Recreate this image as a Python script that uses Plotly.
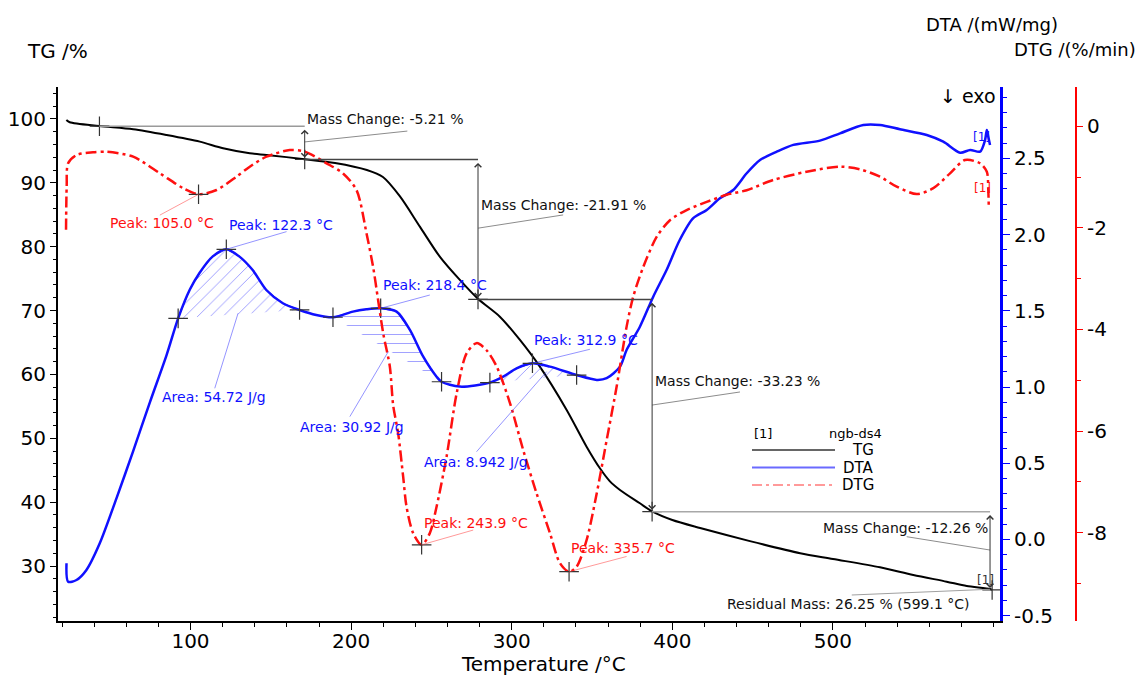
import numpy as np
import plotly.graph_objects as go

FONT = "DejaVu Sans"

# ---------------- data ----------------
tg_temp = [22.7, 24.8, 43.1, 64.3, 85.1, 105.8, 120.3, 136.9, 147.3, 171.1, 190.0, 209.8,
           219.8, 230.3, 242.8, 255.2, 267.7, 279.1, 292.6, 305.1, 317.5, 334.2, 346.6,
           354.9, 361.0, 367.4, 379.8, 387.4, 400.0, 417.3, 448.3, 479.6, 500.0, 529.3, 550.0,
           570.8, 583.3, 597.8, 599.1]
tg_mass = [99.84, 99.48, 98.90, 98.39, 97.49, 96.45, 95.41, 94.63, 94.36, 93.70, 93.10, 92.00,
           90.90, 87.90, 83.14, 78.44, 74.79, 71.80, 69.04, 65.39, 61.21, 54.43, 48.68,
           45.30, 43.30, 41.91, 39.82, 38.55, 37.20, 35.95, 33.90, 32.00, 31.10, 29.80, 28.60,
           27.55, 26.88, 26.40, 26.25]

dta_temp = [22.8, 23.8, 29.0, 35.2, 43.5, 53.9, 64.3, 74.7, 85.1, 92.3, 99.6, 105.6, 113.7,
            122.3, 130.5, 138.7, 147.2, 157.5, 167.9, 178.3, 188.7, 201.1, 209.5, 218.4,
            228.3, 236.6, 244.9, 253.2, 256.3, 267.7, 286.4, 294.7, 303.0, 312.9, 323.8,
            340.4, 352.9, 359.1, 367.4, 371.5, 379.8, 388.1, 396.4, 404.6, 413.0, 421.4,
            429.6, 437.9, 446.3, 454.6, 465.0, 475.3, 491.9, 504.4, 518.9, 529.3, 541.7,
            558.4, 568.7, 579.2, 585.4, 591.6, 594.7, 595.8, 596.7, 597.8]
dta_signal = [-0.156, -0.277, -0.266, -0.200, -0.025, 0.270, 0.580, 0.900, 1.210, 1.451, 1.640,
              1.749, 1.856, 1.904, 1.856, 1.768, 1.637, 1.550, 1.506, 1.473, 1.458, 1.495,
              1.510, 1.517, 1.495, 1.375, 1.199, 1.068, 1.035, 1.003, 1.029, 1.068, 1.123,
              1.156, 1.134, 1.079, 1.047, 1.058, 1.134, 1.243, 1.396, 1.593, 1.768, 1.965,
              2.108, 2.162, 2.239, 2.293, 2.403, 2.490, 2.545, 2.589, 2.617, 2.665, 2.720,
              2.720, 2.692, 2.654, 2.610, 2.538, 2.556, 2.545, 2.621, 2.687, 2.643, 2.589]

dtg_temp = [22.5, 22.9, 23.8, 29.0, 39.3, 47.7, 64.3, 80.9, 95.4, 105.0, 116.2, 128.6, 136.9,
            147.3, 161.8, 171.1, 184.7, 195.0, 203.4, 209.6, 213.7, 216.8, 220.0, 224.1,
            226.2, 229.3, 232.4, 234.5, 238.6, 243.9, 249.0, 253.2, 259.4, 265.7, 271.9,
            278.1, 284.3, 290.6, 298.9, 307.1, 315.5, 323.8, 330.0, 335.7, 340.4, 346.6,
            352.9, 359.1, 365.3, 371.5, 375.6, 381.9, 390.2, 398.5, 408.9, 421.4, 433.8,
            446.3, 462.8, 483.6, 504.4, 516.8, 529.3, 539.7, 552.1, 562.5, 572.9, 582.2,
            591.6, 595.8, 596.7, 597.0]
dtg_rate = [-2.04, -1.20, -0.73, -0.567, -0.514, -0.502, -0.60, -0.927, -1.22, -1.34, -1.256,
            -0.994, -0.797, -0.60, -0.47, -0.50, -0.73, -0.93, -1.26, -2.11, -2.77, -3.42,
            -4.08, -4.73, -5.50, -6.05, -6.90, -7.49, -8.01, -8.24, -8.01, -7.49, -6.51,
            -5.26, -4.47, -4.27, -4.41, -4.73, -5.45, -6.37, -7.23, -8.01, -8.60, -8.77,
            -8.67, -8.15, -7.23, -6.18, -5.13, -3.95, -3.36, -2.77, -2.18, -1.85, -1.65,
            -1.49, -1.35, -1.26, -1.059, -0.896, -0.797, -0.848, -0.994, -1.19, -1.335,
            -1.22, -0.927, -0.665, -0.73, -0.896, -1.256, -1.585]

# mass-change evaluation
step_temp = [43.3, 171.1, 279.0, 387.4, 599.1]
step_mass = [98.86, 93.65, 71.74, 38.51, 26.25]
mass_change = [-5.21, -21.91, -33.23, -12.26]

# DTA peaks / areas
dta_peak_temp = [122.3, 218.4, 312.9]
dta_peak_val = [1.904, 1.517, 1.156]
dta_base_start = [92.3, 188.7, 286.4]
dta_base_end = [167.9, 256.3, 340.4]
dta_area = ["54.72", "30.92", "8.942"]

# DTG peaks
dtg_peak_temp = [105.0, 243.9, 335.7]
dtg_peak_val = [-1.34, -8.24, -8.77]

# ticks
x_ticks = [100, 200, 300, 400, 500]
x_labels = ["100", "200", "300", "400", "500"]
tg_ticks = [30, 40, 50, 60, 70, 80, 90, 100]
tg_labels = ["30", "40", "50", "60", "70", "80", "90", "100"]
dta_ticks = [-0.5, 0.0, 0.5, 1.0, 1.5, 2.0, 2.5]
dta_labels = ["-0.5", "0.0", "0.5", "1.0", "1.5", "2.0", "2.5"]
dtg_ticks = [-8, -6, -4, -2, 0]
dtg_labels = ["-8", "-6", "-4", "-2", "0"]

# ---------------- styles ----------------
BLUE = "#1010ff"
RED = "#ff1010"
DARK = "#333333"

fig = go.Figure()

# hatched DTA peak areas
hatch_shapes = ["/", "-", "/"]
dT = np.array(dta_temp)
dV = np.array(dta_signal)
for a, b, sh in zip(dta_base_start, dta_base_end, hatch_shapes):
    m = (dT > a) & (dT < b)
    xs = [a] + list(dT[m]) + [b]
    ys = [float(np.interp(a, dT, dV))] + list(dV[m]) + [float(np.interp(b, dT, dV))]
    fig.add_trace(go.Scatter(
        x=xs, y=ys, yaxis="y2", mode="lines", fill="toself",
        line=dict(color="rgba(40,40,255,0.85)", width=1),
        fillcolor="rgba(0,0,0,0)",
        fillpattern=dict(shape=sh, size=9, solidity=0.1, fgcolor="rgba(80,80,255,0.6)",
                         bgcolor="rgba(255,255,255,0)", fillmode="replace"),
        hoverinfo="skip", showlegend=False))

# curves
fig.add_trace(go.Scatter(x=dtg_temp, y=dtg_rate, yaxis="y3", mode="lines", name="DTG",
                         line=dict(color=RED, width=2.5, dash="11px,4px,3px,4px",
                                   shape="spline", smoothing=0.8)))
fig.add_trace(go.Scatter(x=dta_temp, y=dta_signal, yaxis="y2", mode="lines", name="DTA",
                         line=dict(color=BLUE, width=2.5, shape="spline", smoothing=0.8)))
fig.add_trace(go.Scatter(x=tg_temp, y=tg_mass, yaxis="y", mode="lines", name="TG",
                         line=dict(color="black", width=2, shape="spline", smoothing=0.8)))

# cross markers
cross = dict(symbol="cross-thin", size=14, line=dict(width=1.2, color=DARK))
fig.add_trace(go.Scatter(x=step_temp, y=step_mass, yaxis="y", mode="markers", marker=cross,
                         hoverinfo="skip"))
dta_mark_T = dta_base_start + dta_peak_temp + dta_base_end
dta_mark_V = [float(np.interp(t, dT, dV)) for t in dta_base_start] + dta_peak_val + \
             [float(np.interp(t, dT, dV)) for t in dta_base_end]
fig.add_trace(go.Scatter(x=dta_mark_T, y=dta_mark_V, yaxis="y2", mode="markers", marker=cross,
                         hoverinfo="skip"))
fig.add_trace(go.Scatter(x=dtg_peak_temp, y=dtg_peak_val, yaxis="y3", mode="markers",
                         marker=cross, hoverinfo="skip"))

shapes = []
annotations = []


def seg(x0, y0, x1, y1, yref="y", color="#888888", width=1):
    shapes.append(dict(type="line", xref="x", yref=yref, x0=x0, y0=y0, x1=x1, y1=y1,
                       line=dict(color=color, width=width), layer="above"))


def txt(text, x, y, yref="y", color="black", xanchor="left", size=14):
    annotations.append(dict(text=text, x=x, y=y, xref="x", yref=yref, showarrow=False,
                            xanchor=xanchor, yanchor="middle",
                            font=dict(family=FONT, size=size, color=color)))


def ptxt(text, px, py, xanchor="center", size=14, color="black"):
    annotations.append(dict(text=text, x=(px - 58) / 1042, y=(621 - py) / 534,
                            xref="paper", yref="paper", showarrow=False,
                            xanchor=xanchor, yanchor="middle",
                            font=dict(family=FONT, size=size, color=color)))


# mass-change level lines and arrows
level_colors = ["#9a9a9a", "#444444", "#444444", "#a8a8a8"]
arrow_x = [step_temp[1], step_temp[2], step_temp[3], 597.8]
level_end = [step_temp[1], step_temp[2], step_temp[3], 597.8]
for i in range(4):
    seg(step_temp[i], step_mass[i], level_end[i], step_mass[i], color=level_colors[i], width=1.5)
    annotations.append(dict(x=arrow_x[i], y=step_mass[i + 1] + 0.3, ax=arrow_x[i],
                            ay=step_mass[i] - 0.3, xref="x", yref="y", axref="x", ayref="y",
                            text="", showarrow=True, arrowhead=4, startarrowhead=4,
                            arrowside="end+start", arrowsize=1.3, startarrowsize=1.3,
                            arrowwidth=1, arrowcolor=DARK))

mc_text_pos = [(171.5, 100.0, "left"), (279.5, 86.5, "left"), (387.9, 58.97, "left"),
               (597.5, 35.9, "right")]
mc_leaders = [(171.1, 96.4, 235.0, 98.1), (279.1, 82.9, 332.0, 84.97),
              (387.4, 55.2, 442.1, 57.25), (597.8, 32.5, 545.9, 34.59)]
for mc, (x, y, xa), (a0, b0, a1, b1) in zip(mass_change, mc_text_pos, mc_leaders):
    txt(f"Mass Change: {mc:.2f} %", x, y, xanchor=xa, color="#111111")
    seg(a0, b0, a1, b1, color="#8c8c8c")

txt(f"Residual Mass: {step_mass[-1]:.2f} % ({step_temp[-1]:.1f} °C)", 586.5, 24.05,
    xanchor="right", color="#111111")
seg(597.8, 26.36, 511.7, 25.46, color="#a0a0a0")

# DTA peak labels
dta_peak_pos = [(123.0, 2.064), (218.9, 1.67), (312.8, 1.309)]
dta_peak_lead = [(159.8, 2.02), (249.0, 1.604), (348.7, 1.248)]
for t, v, (x, y), (lx, ly) in zip(dta_peak_temp, dta_peak_val, dta_peak_pos, dta_peak_lead):
    txt(f"Peak: {t:.1f} °C", x, y, yref="y2", color=BLUE)
    seg(t, v, lx, ly, yref="y2", color="rgba(60,60,255,0.55)")

dta_area_pos = [(80.9, 0.937), (167.0, 0.740), (244.3, 0.51)]
dta_area_lead = [(129.6, 1.484, 115.1, 0.992), (223.1, 1.232, 199.2, 0.806),
                 (321.7, 1.101, 278.1, 0.576)]
for ar, (x, y), (a0, b0, a1, b1) in zip(dta_area, dta_area_pos, dta_area_lead):
    txt(f"Area: {ar} J/g", x, y, yref="y2", color=BLUE)
    seg(a0, b0, a1, b1, yref="y2", color="rgba(60,60,255,0.55)")

# DTG peak labels
dtg_peak_pos = [(48.7, -1.90), (244.3, -7.81), (335.8, -8.31)]
dtg_peak_lead = [(80.9, -1.75), (276.0, -7.95), (371.5, -8.47)]
for t, v, (x, y), (lx, ly) in zip(dtg_peak_temp, dtg_peak_val, dtg_peak_pos, dtg_peak_lead):
    txt(f"Peak: {t:.1f} °C", x, y, yref="y3", color=RED)
    seg(t, v, lx, ly, yref="y3", color="rgba(255,70,70,0.55)")

# curve end tags
txt("[1]", 594.9, 27.8, color=DARK, xanchor="center", size=12)
txt("[1]", 592.6, 2.641, yref="y2", color=BLUE, xanchor="center", size=12)
txt("[1]", 593.1, -1.22, yref="y3", color=RED, xanchor="center", size=12)

# axis titles and headers
ptxt("TG /%", 57, 51, size=20)
ptxt("DTA /(mW/mg)", 992, 24, size=18)
ptxt("DTG /(%/min)", 1075, 49, size=18)
ptxt("↓ exo", 998, 96, xanchor="right", size=19)
ptxt("Temperature /°C", 543, 664, size=20)

# legend block
ptxt("[1]", 752, 434, xanchor="left", size=13)
ptxt("ngb-ds4", 884, 434, xanchor="right", size=13)
leg_items = [("TG", "#666666", "solid", 450), ("DTA", "#6a6aff", "solid", 467.5),
             ("DTG", "#ff9a9a", "10px,4px,3px,4px", 485)]
for name, col, dash, py in leg_items:
    shapes.append(dict(type="line", xref="paper", yref="paper",
                       x0=(752 - 58) / 1042, x1=(835 - 58) / 1042,
                       y0=(621 - py) / 534, y1=(621 - py) / 534,
                       line=dict(color=col, width=2, dash=dash)))
    ptxt(name, 876, py, xanchor="right", size=15)

tickfont = dict(family=FONT, size=20, color="black")

fig.update_layout(
    width=1144, height=675,
    margin=dict(l=58, r=44, t=87, b=54, pad=0),
    paper_bgcolor="white", plot_bgcolor="white",
    showlegend=False,
    shapes=shapes, annotations=annotations,
    font=dict(family=FONT),
    xaxis=dict(range=[17.5, 604.0], domain=[0, 942 / 1042], showline=True, linecolor="black",
               linewidth=2, ticks="outside", ticklen=7, tickwidth=1, tickcolor="black",
               tickmode="array", tickvals=x_ticks, ticktext=x_labels, tickfont=tickfont,
               ticklabelstandoff=-6,
               minor=dict(tickmode="linear", tick0=0, dtick=20, ticklen=4, ticks="outside",
                          tickcolor="black", tickwidth=1),
               showgrid=False, zeroline=False, automargin=False),
    yaxis=dict(range=[21.39, 105.0], showline=True, linecolor="black", linewidth=2,
               ticks="outside", ticklen=6, tickwidth=1, tickcolor="black",
               tickmode="array", tickvals=tg_ticks, ticktext=tg_labels, tickfont=tickfont,
               minor=dict(tickmode="linear", tick0=0, dtick=2, ticklen=3, ticks="outside",
                          tickcolor="black", tickwidth=1),
               showgrid=False, zeroline=False, automargin=False),
    yaxis2=dict(range=[-0.535, 2.969], overlaying="y", side="right", anchor="x",
                showline=True, linecolor="blue", linewidth=3,
                ticks="outside", ticklen=7, tickwidth=1, tickcolor="blue",
                tickmode="array", tickvals=dta_ticks, ticktext=dta_labels, tickfont=tickfont,
                minor=dict(tickmode="linear", tick0=0, dtick=0.1, ticklen=4, ticks="outside",
                           tickcolor="blue", tickwidth=1),
                showgrid=False, zeroline=False, automargin=False),
    yaxis3=dict(range=[-9.74, 0.772], overlaying="y", side="right", anchor="free",
                position=(1076 - 58) / 1042,
                showline=True, linecolor="red", linewidth=2,
                ticks="outside", ticklen=6, tickwidth=1, tickcolor="red",
                tickmode="array", tickvals=dtg_ticks, ticktext=dtg_labels, tickfont=tickfont,
                minor=dict(tickmode="linear", tick0=0, dtick=1, ticklen=4, ticks="outside",
                           tickcolor="red", tickwidth=1),
                showgrid=False, zeroline=False, automargin=False),
)

fig.write_html("out.html")
